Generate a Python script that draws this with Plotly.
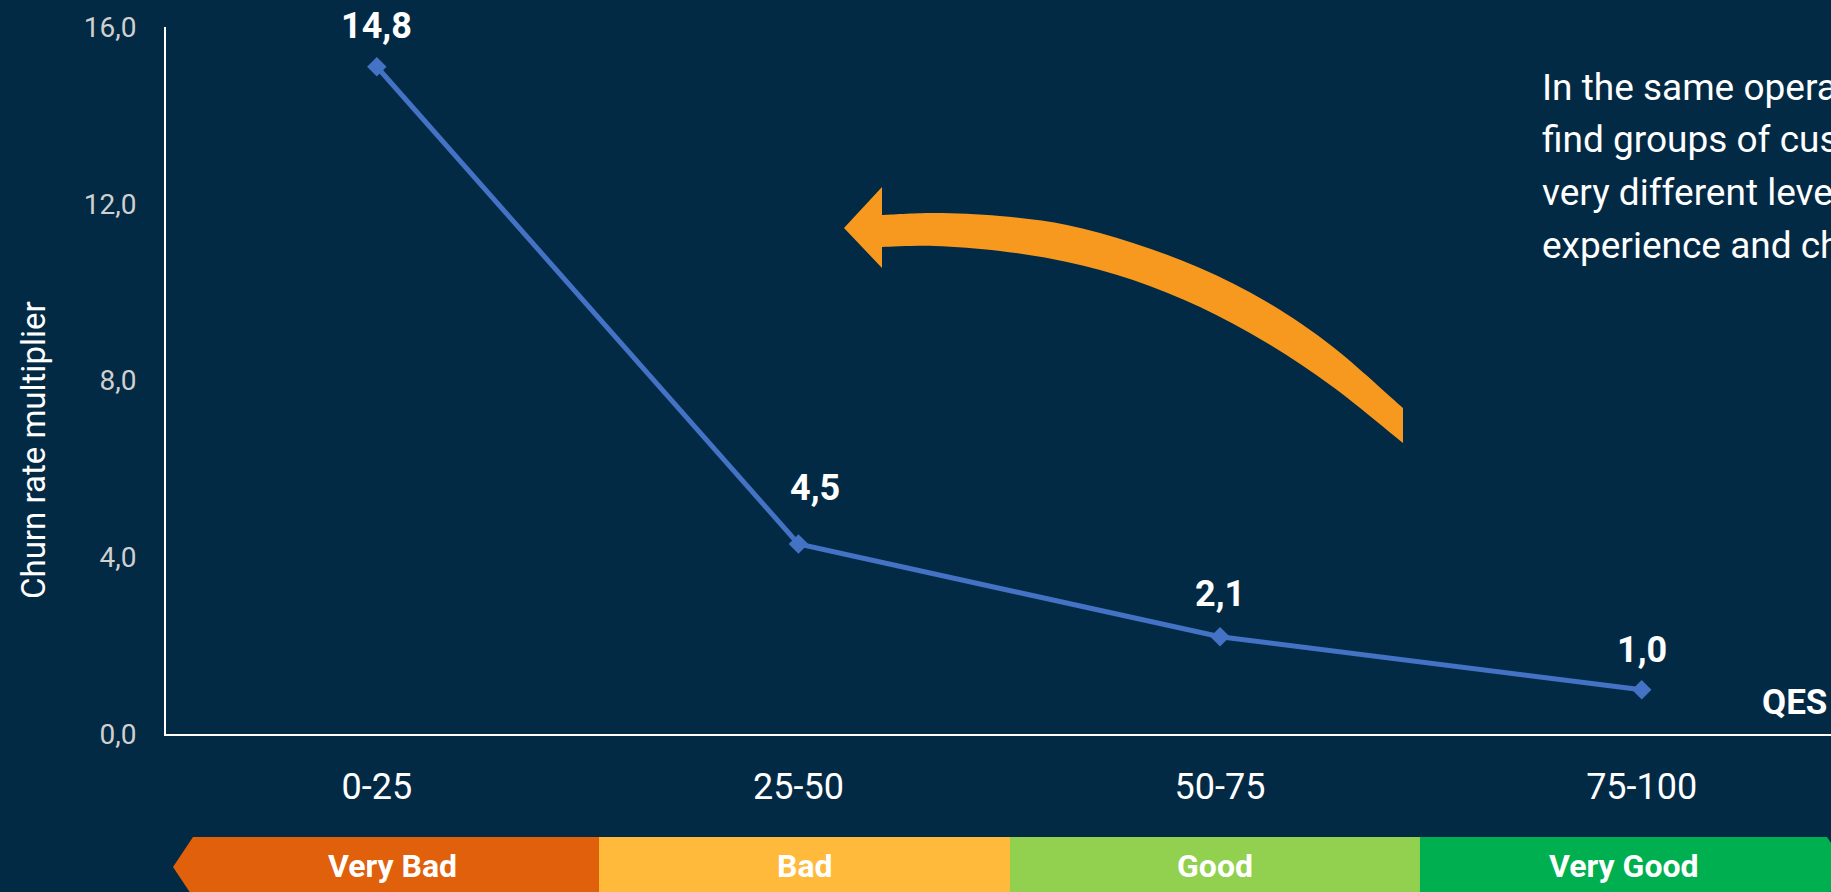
import plotly.graph_objects as go

# ---------------- data ----------------
categories = ["0-25", "25-50", "50-75", "75-100"]
churn_multiplier = [15.1, 4.3, 2.2, 1.0]
value_labels = ["14,8", "4,5", "2,1", "1,0"]
y_ticks = [0, 4, 8, 12, 16]
band_names = ["Very Bad", "Bad", "Good", "Very Good"]
note_lines = ["In the same operator, we can",
              "find groups of customers with",
              "very different levels of",
              "experience and churn"]
axis_title = "Churn rate multiplier"
x_title = "QES"

# ---------------- style / geometry ----------------
W, H = 1831, 892
ML, MR, MT, MB = 166, 0, 27, 158
PW, PH = W - ML - MR, H - MT - MB
BG = "#022A45"
LINE = "#4472C4"
FONT = "Roboto"
band_colors = ["#E0600B", "#FFBA3C", "#92D050", "#00B050"]
label_yshift = [41, 56, 43, 40]
label_xshift = [0, 17, 0, 0]


def px(x):
    return (x - ML) / PW


def py(y):
    return (H - MB - y) / PH


fig = go.Figure()
fig.add_trace(go.Scatter(
    x=categories, y=churn_multiplier, mode="lines+markers",
    line=dict(color=LINE, width=5),
    marker=dict(symbol="diamond", size=15, color=LINE),
    hoverinfo="skip", showlegend=False, cliponaxis=False))

annotations = []
for c, v, t, ys, xs in zip(categories, churn_multiplier, value_labels, label_yshift, label_xshift):
    annotations.append(dict(x=c, y=v, xref="x", yref="y", text=f"<b>{t}</b>",
                            showarrow=False, yshift=ys, xshift=xs,
                            xanchor="center", yanchor="middle",
                            font=dict(family=FONT, size=36, color="white")))

# y axis title
annotations.append(dict(x=px(33), y=py(450), xref="paper", yref="paper", text=axis_title,
                        textangle=-90, showarrow=False, xanchor="center", yanchor="middle",
                        font=dict(family=FONT, size=33, color="white")))
# QES
annotations.append(dict(x=px(1760), y=py(702), xref="paper", yref="paper", text=f"<b>{x_title}</b>",
                        showarrow=False, xanchor="left", yanchor="middle",
                        font=dict(family=FONT, size=35, color="white")))
# note text
for i, line in enumerate(note_lines):
    annotations.append(dict(x=px(1540), y=py(87.5 + 52.5 * i), xref="paper", yref="paper",
                            text=line, showarrow=False, xanchor="left", yanchor="middle",
                            font=dict(family=FONT, size=37, color="white")))

shapes = []
# bottom quality band
band_top, band_bot, band_mid = 837, 897, 867
edges = [(193, 599), (599, 1010), (1010, 1420), (1420, 1827)]
for i, ((x0, x1), col, name) in enumerate(zip(edges, band_colors, band_names)):
    if i == 0:
        pts = [(x0, band_top), (x1, band_top), (x1, band_bot), (x0, band_bot), (173, band_mid)]
    elif i == 3:
        pts = [(x0, band_top), (x1, band_top), (1847, band_mid), (x1, band_bot), (x0, band_bot)]
    else:
        pts = [(x0, band_top), (x1, band_top), (x1, band_bot), (x0, band_bot)]
    path = "M " + " L ".join(f"{px(a):.5f},{py(b):.5f}" for a, b in pts) + " Z"
    shapes.append(dict(type="path", path=path, xref="paper", yref="paper",
                       fillcolor=col, line=dict(width=0), layer="above"))
    cx = (x0 + x1) / 2 if i != 0 else 392
    annotations.append(dict(x=px(cx), y=py(866), xref="paper", yref="paper",
                            text=f"<b>{name}</b>", showarrow=False,
                            xanchor="center", yanchor="middle",
                            font=dict(family=FONT, size=32, color="white")))

# curved orange arrow
top_edge = [(882, 215), (935, 213), (1000, 216), (1067, 225), (1133, 243),
            (1200, 268), (1267, 302), (1333, 347), (1403, 408)]
bot_edge = [(882, 247), (935, 246), (1000, 251), (1067, 262), (1133, 280),
            (1200, 307), (1267, 343), (1333, 387), (1403, 443)]


def smooth(points):
    out = []
    n = len(points)
    for i in range(n - 1):
        p0 = points[max(i - 1, 0)]
        p1 = points[i]
        p2 = points[i + 1]
        p3 = points[min(i + 2, n - 1)]
        c1 = (p1[0] + (p2[0] - p0[0]) / 6, p1[1] + (p2[1] - p0[1]) / 6)
        c2 = (p2[0] - (p3[0] - p1[0]) / 6, p2[1] - (p3[1] - p1[1]) / 6)
        out.append(f" C {px(c1[0]):.5f},{py(c1[1]):.5f} {px(c2[0]):.5f},{py(c2[1]):.5f} {px(p2[0]):.5f},{py(p2[1]):.5f}")
    return "".join(out)


def P(a, b):
    return f"{px(a):.5f},{py(b):.5f}"


arrow = (f"M {P(844, 228)} L {P(882, 187)} L {P(*top_edge[0])}" + smooth(top_edge)
         + f" L {P(*bot_edge[-1])}" + smooth(bot_edge[::-1])
         + f" L {P(882, 268)} Z")
shapes.append(dict(type="path", path=arrow, xref="paper", yref="paper",
                   fillcolor="#F7991E", line=dict(width=0), layer="above"))

fig.update_layout(
    width=W, height=H, autosize=False,
    margin=dict(l=ML, r=MR, t=MT, b=MB, pad=0),
    paper_bgcolor=BG, plot_bgcolor=BG,
    separators=",.",
    font=dict(family=FONT, color="white"),
    showlegend=False, hovermode=False,
    annotations=annotations, shapes=shapes,
    xaxis=dict(type="category", range=[-0.5, 3.449], showgrid=False, zeroline=False,
               showline=True, linecolor="white", linewidth=2, ticks="",
               tickfont=dict(family=FONT, size=36, color="white"),
               ticklabelstandoff=20, fixedrange=True),
    yaxis=dict(range=[0, 16], tickvals=y_ticks, tickformat=".1f", showgrid=False,
               zeroline=False, showline=True, linecolor="white", linewidth=2, ticks="",
               tickfont=dict(family=FONT, size=28, color="#D0D0D0"),
               ticklabelstandoff=22, fixedrange=True),
)

fig.write_html("out.html", config={"displayModeBar": False})
